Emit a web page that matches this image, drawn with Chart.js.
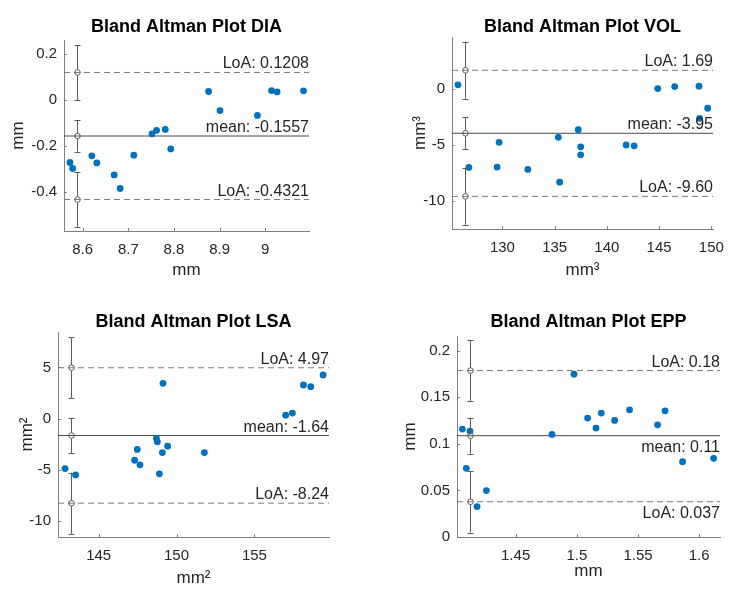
<!DOCTYPE html>
<html><head><meta charset="utf-8">
<script src="https://cdn.jsdelivr.net/npm/chart.js@4.4.1/dist/chart.umd.min.js"></script>
<style>
html,body{margin:0;padding:0;background:#fff;}
#wrap{position:relative;width:746px;height:601px;overflow:hidden;background:#fff;}
.cell{position:absolute;}
canvas{display:block;}
</style></head><body>
<div id="wrap">
 <div class="cell" style="left:0;top:0;"><canvas id="c1" width="373" height="300"></canvas></div>
 <div class="cell" style="left:373px;top:0;"><canvas id="c2" width="373" height="300"></canvas></div>
 <div class="cell" style="left:0;top:300px;"><canvas id="c3" width="373" height="301"></canvas></div>
 <div class="cell" style="left:373px;top:300px;"><canvas id="c4" width="373" height="301"></canvas></div>
</div>
<script>
// ---------- DIA ----------
const diaMean = [8.572, 8.578, 8.620, 8.631, 8.669, 8.682, 8.712, 8.752, 8.762, 8.781, 8.793, 8.876, 8.901, 8.983, 9.014, 9.026, 9.084];
const diaDiff = [-0.271, -0.297, -0.242, -0.273, -0.325, -0.384, -0.239, -0.146, -0.131, -0.127, -0.212, 0.038, -0.045, -0.066, 0.042, 0.036, 0.041];
const diaStats = [0.1208, -0.1557, -0.4321];      // upper LoA, mean, lower LoA
const diaCI = [0.12, 0.068, 0.12];                 // CI half-widths
const diaCIx = 8.587;
const diaStatLabels = ['LoA: 0.1208', 'mean: -0.1557', 'LoA: -0.4321'];
const diaXLim = [8.559, 9.096];
const diaYLim = [-0.569, 0.262];
const diaXTicks = [8.6, 8.7, 8.8, 8.9, 9];
const diaXTickLabels = ['8.6', '8.7', '8.8', '8.9', '9'];
const diaYTicks = [-0.4, -0.2, 0, 0.2];
const diaYTickLabels = ['-0.4', '-0.2', '0', '0.2'];

// ---------- VOL ----------
const volMean = [125.74, 126.79, 129.68, 129.49, 132.43, 135.35, 135.48, 137.26, 137.49, 137.49, 141.84, 142.61, 144.87, 146.49, 148.82, 148.88, 149.65];
const volDiff = [0.39, -7.01, -4.76, -6.98, -7.19, -4.31, -8.33, -3.63, -5.16, -5.88, -5.00, -5.07, 0.05, 0.23, 0.27, -2.61, -1.71];
const volStats = [1.69, -3.95, -9.60];
const volCI = [2.55, 1.42, 2.55];
const volCIx = 126.44;
const volStatLabels = ['LoA: 1.69', 'mean: -3.95', 'LoA: -9.60'];
const volXLim = [125.17, 150.16];
const volYLim = [-12.52, 4.67];
const volXTicks = [130, 135, 140, 145, 150];
const volXTickLabels = ['130', '135', '140', '145', '150'];
const volYTicks = [-10, -5, 0];
const volYTickLabels = ['-10', '-5', '0'];

// ---------- LSA ----------
const lsaMean = [142.84, 143.52, 147.31, 147.48, 147.65, 148.71, 148.77, 148.90, 149.09, 149.13, 149.43, 151.79, 157.01, 157.44, 158.15, 158.62, 159.41];
const lsaDiff = [-4.86, -5.48, -4.05, -3.00, -4.50, -1.93, -2.25, -5.38, -3.30, 3.45, -2.68, -3.30, 0.35, 0.55, 3.29, 3.13, 4.27];
const lsaStats = [4.97, -1.64, -8.24];
const lsaCI = [2.98, 1.72, 2.98];
const lsaCIx = 143.25;
const lsaStatLabels = ['LoA: 4.97', 'mean: -1.64', 'LoA: -8.24'];
const lsaXLim = [142.39, 159.79];
const lsaYLim = [-11.54, 8.46];
const lsaXTicks = [145, 150, 155];
const lsaXTickLabels = ['145', '150', '155'];
const lsaYTicks = [-10, -5, 0, 5];
const lsaYTickLabels = ['-10', '-5', '0', '5'];

// ---------- EPP ----------
const eppMean = [1.4065, 1.4127, 1.4097, 1.4185, 1.4261, 1.4797, 1.4977, 1.5088, 1.5157, 1.5200, 1.5309, 1.5431, 1.5660, 1.5721, 1.5864, 1.6118];
const eppDiff = [0.1158, 0.1137, 0.0737, 0.0327, 0.0498, 0.1101, 0.1747, 0.1276, 0.1169, 0.1330, 0.1251, 0.1365, 0.1204, 0.1354, 0.0808, 0.0844];
const eppStats = [0.1786, 0.1087, 0.0378];
const eppCI = [0.0325, 0.0192, 0.0330];
const eppCIx = 1.4124;
const eppStatLabels = ['LoA: 0.18', 'mean: 0.11', 'LoA: 0.037'];
const eppXLim = [1.4021, 1.6170];
const eppYLim = [0, 0.2157];
const eppXTicks = [1.45, 1.5, 1.55, 1.6];
const eppXTickLabels = ['1.45', '1.5', '1.55', '1.6'];
const eppYTicks = [0, 0.05, 0.1, 0.15, 0.2];
const eppYTickLabels = ['0', '0.05', '0.1', '0.15', '0.2'];

// ---------- layout / style (not data) ----------
const FONT = 'Liberation Sans, Arial, Helvetica, sans-serif';
Chart.defaults.font.family = FONT;
const BLUE = '#0072BD';
const AXIS = '#808080';
const TXT = '#262626';

const plots = [
  {id:'c1', title:'Bland Altman Plot DIA', x:diaMean, y:diaDiff, stats:diaStats, ci:diaCI, cix:diaCIx, labels:diaStatLabels,
   xLim:diaXLim, yLim:diaYLim, xT:diaXTicks, xTL:diaXTickLabels, yT:diaYTicks, yTL:diaYTickLabels, xTitle:'mm', yTitle:'mm',
   L:{yW:64, top:40, right:64, xH:69, titleY:31.5, yTitlePad:8.6, xTitlePad:19.6, side:['above','above','above']}},
  {id:'c2', title:'Bland Altman Plot VOL', x:volMean, y:volDiff, stats:volStats, ci:volCI, cix:volCIx, labels:volStatLabels,
   xLim:volXLim, yLim:volYLim, xT:volXTicks, xTL:volXTickLabels, yT:volYTicks, yTL:volYTickLabels, xTitle:'mm³', yTitle:'mm³',
   L:{yW:79, top:37, right:33, xH:71, titleY:32.3, yTitlePad:37, xTitlePad:19, side:['above','above','above']}},
  {id:'c3', title:'Bland Altman Plot LSA', x:lsaMean, y:lsaDiff, stats:lsaStats, ci:lsaCI, cix:lsaCIx, labels:lsaStatLabels,
   xLim:lsaXLim, yLim:lsaYLim, xT:lsaXTicks, xTL:lsaXTickLabels, yT:lsaYTicks, yTL:lsaYTickLabels, xTitle:'mm²', yTitle:'mm²',
   L:{yW:58, top:32, right:44, xH:64, titleY:26.7, yTitlePad:17.6, xTitlePad:12, side:['above','above','above']}},
  {id:'c4', title:'Bland Altman Plot EPP', x:eppMean, y:eppDiff, stats:eppStats, ci:eppCI, cix:eppCIx, labels:eppStatLabels,
   xLim:eppXLim, yLim:eppYLim, xT:eppXTicks, xTL:eppXTickLabels, yT:eppYTicks, yTL:eppYTickLabels, xTitle:'mm', yTitle:'mm',
   L:{yW:84, top:36, right:26, xH:64, titleY:26.7, yTitlePad:27.6, xTitlePad:19, side:['above','below','below']}}
];

const decorPlugin = {
  id: 'decor',
  beforeDatasetsDraw(chart) {
    const p = chart.options.plugins.decor.p;
    const ctx = chart.ctx, xs = chart.scales.x, ys = chart.scales.y, a = chart.chartArea;
    ctx.save();
    ctx.strokeStyle = AXIS; ctx.lineWidth = 1;
    ctx.beginPath();
    p.xT.forEach(v => { const px = Math.round(xs.getPixelForValue(v)) + 0.5; ctx.moveTo(px, a.bottom); ctx.lineTo(px, a.bottom - 3); });
    p.yT.forEach(v => { const py = Math.round(ys.getPixelForValue(v)) + 0.5; ctx.moveTo(a.left, py); ctx.lineTo(a.left + 3, py); });
    ctx.stroke();
    ctx.restore();
  },
  afterDatasetsDraw(chart) {
    const p = chart.options.plugins.decor.p;
    const ctx = chart.ctx, xs = chart.scales.x, ys = chart.scales.y, a = chart.chartArea;
    ctx.save();
    ctx.strokeStyle = '#5a5a5a'; ctx.lineWidth = 1;
    const ex = Math.round(xs.getPixelForValue(p.cix)) + 0.5;
    p.stats.forEach((v, i) => {
      const yt = ys.getPixelForValue(v + p.ci[i]);
      const yb = ys.getPixelForValue(v - p.ci[i]);
      const yc = ys.getPixelForValue(v);
      ctx.beginPath();
      ctx.moveTo(ex, yt); ctx.lineTo(ex, yc - 2.8);
      ctx.moveTo(ex, yc + 2.8); ctx.lineTo(ex, yb);
      ctx.moveTo(ex - 3, Math.round(yt) + 0.5); ctx.lineTo(ex + 3, Math.round(yt) + 0.5);
      ctx.moveTo(ex - 3, Math.round(yb) + 0.5); ctx.lineTo(ex + 3, Math.round(yb) + 0.5);
      ctx.stroke();
      ctx.beginPath(); ctx.arc(ex, yc, 2.8, 0, Math.PI * 2); ctx.stroke();
    });
    ctx.fillStyle = TXT; ctx.font = '16px ' + FONT; ctx.textAlign = 'right'; ctx.textBaseline = 'alphabetic';
    p.stats.forEach((v, i) => {
      const y = ys.getPixelForValue(v);
      if (p.L.side[i] === 'above') ctx.fillText(p.labels[i], a.right, y - 4);
      else ctx.fillText(p.labels[i], a.right, y + 16.5);
    });
    ctx.fillStyle = '#000'; ctx.font = 'bold 18px ' + FONT; ctx.textAlign = 'center';
    ctx.fillText(p.title, (a.left + a.right) / 2, p.L.titleY);
    ctx.restore();
  }
};

plots.forEach(p => {
  const pts = p.x.map((v, i) => ({x: v, y: p.y[i]}));
  const lineDs = (v, dash, color) => ({
    data: [{x: p.xLim[0], y: v}, {x: p.xLim[1], y: v}],
    showLine: true, pointRadius: 0, borderWidth: 1, borderColor: color, borderDash: dash, order: 1
  });
  new Chart(document.getElementById(p.id), {
    type: 'scatter',
    data: {datasets: [
      {data: pts, pointRadius: 3.4, pointBackgroundColor: BLUE, pointBorderWidth: 0, borderWidth: 0, order: 0},
      lineDs(p.stats[0], [6, 4], '#7a7a7a'),
      lineDs(p.stats[1], [], '#4a4a4a'),
      lineDs(p.stats[2], [6, 4], '#7a7a7a')
    ]},
    options: {
      responsive: false, animation: false, devicePixelRatio: 1,
      layout: {padding: {left: 0, top: p.L.top, right: p.L.right, bottom: 0}},
      plugins: {legend: {display: false}, tooltip: {enabled: false}, title: {display: false}, decor: {p: p}},
      scales: {
        x: {
          type: 'linear', position: 'bottom', min: p.xLim[0], max: p.xLim[1],
          grid: {display: false, drawTicks: false},
          border: {display: true, color: AXIS, width: 1},
          afterBuildTicks: s => { s.ticks = p.xT.map(v => ({value: v})); },
          afterFit: s => { s.height = p.L.xH; },
          ticks: {autoSkip: false, maxRotation: 0, padding: 9.5, color: TXT, font: {size: 15},
                  callback: (v, i) => p.xTL[i]},
          title: {display: true, text: p.xTitle, color: TXT, font: {size: 17}, padding: {top: 0, bottom: p.L.xTitlePad}}
        },
        y: {
          type: 'linear', position: 'left', min: p.yLim[0], max: p.yLim[1],
          grid: {display: false, drawTicks: false},
          border: {display: true, color: AXIS, width: 1},
          afterBuildTicks: s => { s.ticks = p.yT.map(v => ({value: v})); },
          afterFit: s => { s.width = p.L.yW; },
          ticks: {autoSkip: false, padding: 7, color: TXT, font: {size: 15},
                  callback: (v, i) => p.yTL[i]},
          title: {display: true, text: p.yTitle, color: TXT, font: {size: 17}, padding: {top: p.L.yTitlePad, bottom: 0}}
        }
      }
    },
    plugins: [decorPlugin]
  });
});
</script>
</body></html>
